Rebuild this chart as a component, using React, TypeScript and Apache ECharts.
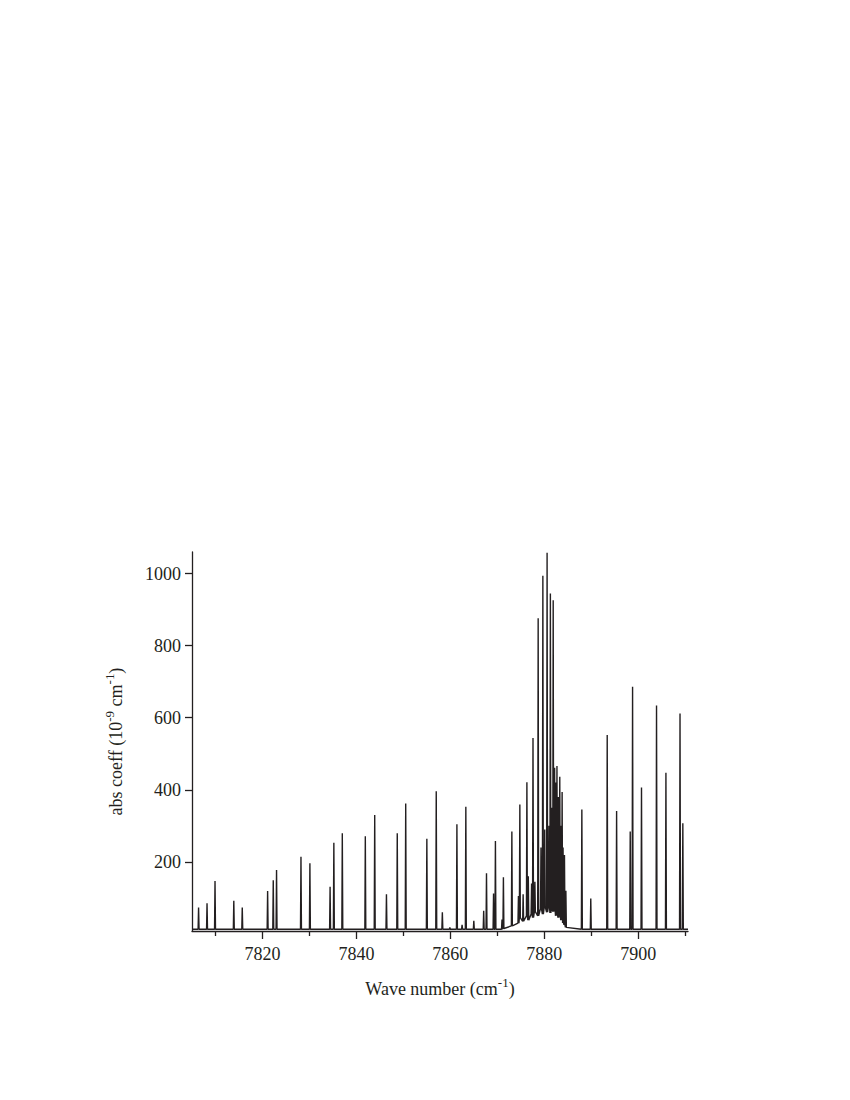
import React, { useEffect, useRef } from "react";
import * as echarts from "echarts";

// Isolated absorption lines: centre (cm^-1) and peak height (10^-9 cm^-1)
const lineCenter = [
  7806.4, 7808.2, 7809.9, 7813.9, 7815.7, 7821.1, 7822.3, 7823.0, 7828.2, 7830.1,
  7834.4, 7835.2, 7837.0, 7841.9, 7843.9, 7846.4, 7848.7, 7850.5, 7855.0, 7857.0,
  7858.3, 7859.9, 7861.4, 7862.5, 7863.3, 7865.0, 7867.1, 7867.7, 7869.2, 7869.6,
  7871.0, 7888.0, 7889.9, 7893.4, 7895.4, 7898.3, 7898.8, 7900.7, 7903.9, 7905.9,
  7908.9, 7909.5,
];
const lineHeight = [
  73, 85, 147, 92, 73, 119, 149, 177, 214, 196,
  131, 253, 279, 271, 330, 110, 279, 362, 264, 396,
  60, 18, 304, 25, 353, 36, 64, 168, 112, 258,
  40, 345, 98, 552, 341, 284, 686, 406, 634, 447,
  612, 307,
];

// Dense band head lines: centre, peak height, local valley level
const bandCenter = [
  7871.3, 7873.1, 7874.5, 7874.8, 7875.5, 7876.3, 7876.6, 7877.3, 7877.6, 7878.0,
  7878.7, 7879.3, 7879.7, 7880.1, 7880.6, 7881.0, 7881.3, 7881.6, 7881.9, 7882.2,
  7882.5, 7882.7, 7883.0, 7883.3, 7883.6, 7883.8, 7884.0, 7884.3, 7884.6,
];
const bandHeight = [
  157, 284, 105, 359, 110, 421, 160, 140, 544, 145,
  876, 240, 994, 290, 1058, 300, 945, 350, 926, 461,
  420, 466, 380, 436, 300, 394, 240, 219, 120,
];
const bandValley = [
  15, 22, 30, 45, 35, 50, 38, 55, 45, 62,
  50, 70, 55, 75, 60, 78, 58, 72, 62, 68,
  50, 62, 45, 55, 38, 45, 30, 25, 18,
];

const baseline = 13;
const xMin = 7805;
const xMax = 7910.6;
const xLabelTicks = [7820, 7840, 7860, 7880, 7900];
const xMinorTicks = [7810, 7830, 7850, 7870, 7890, 7910];
const yTicks = [200, 400, 600, 800, 1000];

export default function App() {
  const ref = useRef<HTMLDivElement>(null);
  useEffect(() => {
    document.body.style.margin = "0";
    const chart = echarts.init(ref.current!, null, { renderer: "svg" });
    const hw = 0.1;
    const pts: [number, number][] = [[xMin, baseline]];
    lineCenter.forEach((c, i) => {
      pts.push([c - hw, baseline], [c, lineHeight[i]], [c + hw, baseline]);
    });
    bandCenter.forEach((c, i) => {
      pts.push([c - hw, bandValley[i]], [c, bandHeight[i]], [c + hw, bandValley[i]]);
    });
    pts.push([xMax, baseline]);
    pts.sort((a, b) => a[0] - b[0]);

    const font = "'Liberation Serif', 'Times New Roman', serif";
    const ink = "#231f20";
    const rich = {
      sup: { fontFamily: font, fontSize: 13, color: ink, padding: [0, 0, 12, 0] },
    };
    chart.setOption({
      animation: false,
      grid: { left: 192, right: 162, top: 552, bottom: 169 },
      xAxis: [
        {
          type: "value",
          min: xMin,
          max: xMax,
          name: "Wave number (cm{sup|-1})",
          nameLocation: "middle",
          nameGap: 45,
          nameTextStyle: { fontFamily: font, fontSize: 18, color: ink, rich },
          axisLine: { show: true, lineStyle: { color: ink, width: 1.3 } },
          axisTick: {
            show: true,
            customValues: xLabelTicks,
            length: 8,
            lineStyle: { color: ink, width: 1.3 },
          },
          axisLabel: {
            customValues: xLabelTicks,
            formatter: (v: number) => String(v),
            fontFamily: font,
            fontSize: 18,
            color: ink,
            margin: 14,
          },
          splitLine: { show: false },
        },
        {
          type: "value",
          min: xMin,
          max: xMax,
          position: "bottom",
          axisLine: { show: false },
          axisTick: {
            show: true,
            customValues: xMinorTicks,
            length: 5,
            lineStyle: { color: ink, width: 1.3 },
          },
          axisLabel: { show: false },
          splitLine: { show: false },
        },
      ],
      yAxis: {
        type: "value",
        min: 8,
        max: 1060,
        name: "abs coeff (10{sup|-9} cm{sup|-1})",
        nameLocation: "middle",
        nameGap: 64,
        nameRotate: 90,
        nameTextStyle: { fontFamily: font, fontSize: 18, color: ink, rich },
        axisLine: { show: true, lineStyle: { color: ink, width: 1.3 } },
        axisTick: {
          show: true,
          customValues: yTicks,
          length: 7,
          lineStyle: { color: ink, width: 1.3 },
        },
        axisLabel: {
          customValues: yTicks,
          formatter: (v: number) => String(v),
          fontFamily: font,
          fontSize: 18,
          color: ink,
          margin: 11,
        },
        splitLine: { show: false },
      },
      series: [
        {
          type: "line",
          xAxisIndex: 0,
          data: pts,
          showSymbol: false,
          symbol: "none",
          lineStyle: { color: ink, width: 1.4 },
          clip: true,
        },
      ],
    });
    return () => chart.dispose();
  }, []);
  return <div ref={ref} style={{ width: 850, height: 1100 }} />;
}
